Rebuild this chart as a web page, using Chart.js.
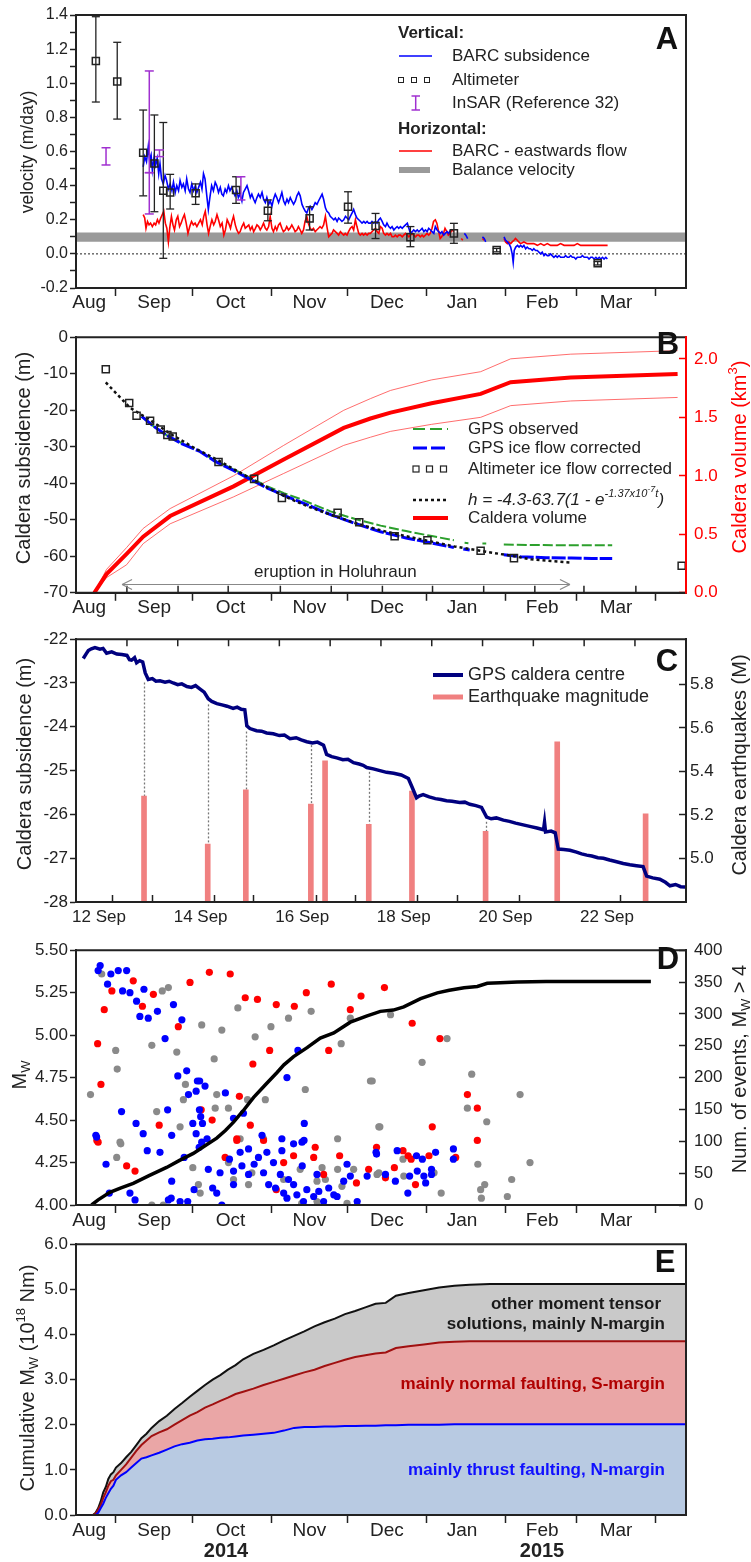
<!DOCTYPE html>
<html>
<head>
<meta charset="utf-8">
<script src="https://cdn.jsdelivr.net/npm/chart.js@4.4.1/dist/chart.umd.min.js"></script>
<style>
  body { margin: 0; background: #fff; width: 751px; height: 1562px; overflow: hidden; }
  canvas { display: block; }
</style>
</head>
<body>
<canvas id="cA" width="751" height="312"></canvas>
<canvas id="cB" width="751" height="306"></canvas>
<canvas id="cC" width="751" height="307"></canvas>
<canvas id="cD" width="751" height="307"></canvas>
<canvas id="cE" width="751" height="330"></canvas>
<script>
const FONT = '"Liberation Sans", Arial, Helvetica, sans-serif';
Chart.defaults.font.family = FONT;
Chart.defaults.color = '#222';

// month axis, x values are days since 1 Aug 2014
const monthEdges = [31, 61, 92, 122, 153, 184, 212, 243];
const monthMid = [20.5, 46, 76, 107, 137.5, 167, 198.5, 227.5];
const monthNames = ['Aug', 'Sep', 'Oct', 'Nov', 'Dec', 'Jan', 'Feb', 'Mar'];
const dayMin = 15.3, dayMax = 255;

// ---- panel A : velocities ----
const aTicks = [-0.2, -0.1, 0, 0.1, 0.2, 0.3, 0.4, 0.5, 0.6, 0.7, 0.8, 0.9, 1.0, 1.1, 1.2, 1.3, 1.4];
const altDays = [23.1, 31.5, 41.7, 46.1, 49.6, 52.3, 62.3, 78.2, 90.7, 107.1, 122.2, 133, 146.7, 163.8, 180.6, 220.3];
const altVel = [1.13, 1.01, 0.593, 0.53, 0.37, 0.36, 0.355, 0.374, 0.253, 0.208, 0.276, 0.163, 0.097, 0.12, 0.022, -0.055];
const altLow = [0.89, 0.79, 0.34, 0.247, -0.026, 0.263, 0.29, 0.296, 0.194, 0.14, 0.18, 0.09, 0.042, 0.062, 0.012, -0.065];
const altHigh = [1.39, 1.24, 0.843, 0.814, 0.77, 0.466, 0.41, 0.452, 0.316, 0.276, 0.364, 0.237, 0.16, 0.179, 0.032, -0.045];
const insarDays = [27.1, 44.1, 44.1, 48.1, 80.1];
const insarLow = [0.521, 0.476, 0.234, 0.57, 0.316];
const insarHigh = [0.622, 1.072, 0.476, 0.609, 0.452];
const balanceVel = 0.098;
const aBlueDays = [41.7, 42.3, 43.0, 43.7, 44.2, 44.8, 45.3, 46.0, 46.6, 47.2, 47.8, 48.3, 48.9, 49.6, 50.3, 50.9, 51.6, 52.3, 53.0, 53.6,
  54.3, 54.9, 55.6, 56.2, 56.9, 57.5, 58.2, 58.8, 59.5, 60.1, 60.8, 61.5, 62.2, 62.8, 63.5, 64.2, 64.8, 65.4, 66.0, 66.7,
  67.3, 67.9, 68.6, 69.3, 70.0, 70.6, 71.3, 72.0, 72.6, 73.2, 73.9, 74.5, 75.2, 75.8, 76.5, 77.2, 77.8, 78.5, 79.1, 79.8,
  80.5, 81.1, 81.8, 82.5, 83.1, 83.8, 84.4, 85.1, 85.7, 86.4, 87.0, 87.7, 88.4, 89.0, 89.7, 90.3, 91.0, 91.6, 92.3, 92.9,
  93.6, 94.2, 94.9, 95.6, 96.2, 96.9, 97.5, 98.2, 98.8, 99.5, 100.1, 100.8, 101.5, 102.1, 102.8, 103.4, 104.1, 104.7, 105.4, 106.0,
  106.7, 107.3, 108.0, 108.7, 109.3, 110.0, 110.6, 111.3, 112.0, 112.6, 113.3, 113.9, 114.6, 115.2, 115.9, 116.6, 117.2, 117.9, 118.5, 119.2,
  119.8, 120.5, 121.2, 121.8, 122.5, 123.1, 123.8, 124.4, 125.1, 125.7, 126.4, 127.1, 127.7, 128.4, 129.0, 129.7, 130.3, 131.0, 131.6, 132.3,
  133.0, 133.6, 134.3, 134.9, 135.6, 136.2, 136.9, 137.5, 138.2, 138.9, 139.5, 140.2, 140.8, 141.5, 142.1, 142.8, 143.5, 144.1, 144.8, 145.5,
  146.1, 146.7, 147.4, 148.0, 148.7, 149.4, 150.0, 150.7, 151.3, 152.0, 152.6, 153.3, 153.9, 154.6, 155.2, 155.9, 156.5, 157.2, 157.8, 158.5,
  159.1, 159.8, 160.4, 161.1, 161.7, 162.5, 163.5, 167.9, 168.5, 169.2, 170.5, 175.0, 175.7, 176.3, 177.5, 183.5, 184.1, 184.8, 185.4, 186.1,
  186.7, 187.1, 187.5, 188.1, 188.8, 189.4, 190.0, 190.7, 191.3, 192.0, 192.6, 193.3, 193.9, 194.6, 195.2, 195.9, 196.6, 197.2, 197.9, 198.5,
  199.2, 199.8, 200.5, 201.1, 201.8, 202.4, 203.1, 203.8, 204.4, 205.1, 205.7, 206.4, 207.1, 207.7, 208.4, 209.0, 209.7, 210.3, 211.0, 211.7,
  212.3, 213.0, 213.6, 214.3, 215.0, 215.6, 216.3, 216.9, 217.6, 218.2, 218.9, 219.6, 220.2, 220.9, 221.5, 222.2, 222.8, 223.5, 224.1];
const aBlue = [0.51, 0.57, 0.54, 0.63, 0.55, 0.58, 0.49, 0.57, 0.52, 0.56, 0.47, 0.53, 0.44, 0.41, 0.46, 0.43, 0.38, 0.41, 0.37, 0.42,
  0.36, 0.40, 0.37, 0.43, 0.39, 0.41, 0.37, 0.44, 0.38, 0.36, 0.41, 0.37, 0.40, 0.36, 0.39, 0.42, 0.38, 0.47, 0.44, 0.34,
  0.26, 0.33, 0.40, 0.37, 0.42, 0.40, 0.36, 0.39, 0.35, 0.34, 0.38, 0.36, 0.40, 0.37, 0.39, 0.36, 0.34, 0.37, 0.33, 0.35,
  0.31, 0.36, 0.38, 0.40, 0.37, 0.33, 0.35, 0.32, 0.30, 0.33, 0.35, 0.33, 0.36, 0.32, 0.30, 0.33, 0.29, 0.31, 0.28, 0.32,
  0.35, 0.33, 0.30, 0.33, 0.36, 0.31, 0.29, 0.32, 0.30, 0.33, 0.31, 0.29, 0.31, 0.34, 0.36, 0.34, 0.29, 0.27, 0.25, 0.24,
  0.27, 0.28, 0.26, 0.28, 0.30, 0.29, 0.31, 0.33, 0.35, 0.32, 0.27, 0.25, 0.24, 0.22, 0.21, 0.20, 0.21, 0.19, 0.21, 0.20,
  0.19, 0.20, 0.22, 0.21, 0.20, 0.22, 0.24, 0.26, 0.23, 0.21, 0.20, 0.19, 0.18, 0.19, 0.18, 0.19, 0.18, 0.18, 0.19, 0.18,
  0.19, 0.18, 0.20, 0.21, 0.19, 0.17, 0.16, 0.18, 0.16, 0.15, 0.16, 0.14, 0.15, 0.16, 0.15, 0.16, 0.15, 0.16, 0.17, 0.18,
  0.15, 0.12, 0.13, 0.14, 0.13, 0.14, 0.13, 0.14, 0.15, 0.13, 0.14, 0.13, 0.15, 0.14, 0.13, 0.12, 0.16, 0.14, 0.13, 0.12,
  0.13, 0.11, 0.12, 0.13, 0.12, 0.14, null, 0.12, 0.11, 0.09, null, 0.10, 0.09, 0.07, null, 0.10, 0.08, 0.07, 0.06, 0.04,
  0.00, -0.05, 0.02, 0.04, 0.05, 0.04, 0.05, 0.04, 0.05, 0.03, 0.04, 0.03, 0.03, 0.02, 0.03, 0.02, 0.02, 0.01, 0.00, 0.01,
  -0.01, 0.00, -0.01, -0.01, 0.00, -0.01, -0.02, -0.01, -0.02, -0.01, -0.02, -0.02, -0.02, -0.01, -0.02, -0.02, -0.01, -0.02, -0.02, -0.03,
  -0.02, -0.02, -0.02, -0.01, -0.02, -0.02, -0.02, -0.03, -0.02, -0.02, -0.03, -0.02, -0.03, -0.02, -0.03, -0.02, -0.03, -0.02, -0.03];
const aRedDays = [41.7, 42.3, 42.8, 43.4, 44.0, 44.6, 45.3, 46.0, 46.6, 47.3, 47.9, 48.6, 49.2, 49.8, 50.4, 51.0, 51.6, 52.2, 52.8, 53.4,
  54.0, 54.7, 55.3, 56.0, 56.6, 57.3, 57.9, 58.6, 59.3, 60.0, 60.7, 61.4, 62.1, 62.8, 63.5, 64.2, 64.9, 65.5, 66.1, 66.8,
  67.4, 68.0, 68.7, 69.4, 70.0, 70.7, 71.3, 72.0, 72.7, 73.4, 74.0, 74.7, 75.3, 76.0, 76.6, 77.2, 77.9, 78.5, 79.2, 79.8,
  80.5, 81.2, 81.8, 82.5, 83.2, 83.8, 84.5, 85.1, 85.8, 86.4, 87.1, 87.7, 88.4, 89.0, 89.7, 90.3, 91.0, 91.6, 92.3, 92.9,
  93.6, 94.2, 94.9, 95.5, 96.2, 96.8, 97.5, 98.1, 98.8, 99.4, 100.1, 100.8, 101.4, 102.1, 102.7, 103.4, 104.0, 104.7, 105.3, 106.0,
  106.6, 107.3, 108.0, 108.6, 109.3, 109.9, 110.6, 111.2, 111.9, 112.6, 113.3, 113.9, 114.6, 115.2, 115.9, 116.5, 117.2, 117.9, 118.5, 119.2,
  119.8, 120.5, 121.1, 121.8, 122.4, 123.1, 123.8, 124.4, 125.1, 125.7, 126.4, 127.0, 127.7, 128.3, 129.0, 129.7, 130.3, 131.0, 131.6, 132.3,
  133.0, 133.6, 134.3, 134.9, 135.6, 136.2, 136.9, 137.5, 138.2, 138.9, 139.5, 140.2, 140.8, 141.5, 142.1, 142.8, 143.5, 144.1, 144.8, 145.5,
  146.1, 146.7, 147.4, 148.0, 148.7, 149.3, 150.0, 150.6, 151.3, 151.9, 152.6, 153.2, 153.9, 154.5, 155.2, 155.8, 156.5, 157.1, 157.8, 158.4,
  159.0, 159.7, 160.3, 161.0, 161.6, 162.3, 163.0, 163.8, 165.0, 166.7, 167.3, 168.0, 175.0, 175.7, 177.0, 183.5, 184.1, 184.8, 185.4, 186.1,
  186.7, 187.4, 188.0, 188.7, 189.3, 190.0, 191.3, 192.6, 193.9, 195.2, 196.6, 197.9, 199.2, 200.5, 201.8, 203.1, 204.4, 205.7, 207.1, 208.4,
  209.7, 211.0, 212.3, 213.6, 215.0, 216.3, 217.6, 218.9, 220.2, 221.5, 222.8, 224.2];
const aRed = [0.23, 0.21, 0.15, 0.19, 0.17, 0.18, 0.16, 0.18, 0.17, 0.20, 0.18, 0.21, 0.23, 0.25, 0.18, 0.15, 0.07, 0.16, 0.22, 0.17,
  0.14, 0.20, 0.22, 0.16, 0.18, 0.21, 0.23, 0.18, 0.12, 0.16, 0.19, 0.17, 0.18, 0.16, 0.18, 0.20, 0.17, 0.22, 0.25, 0.17,
  0.12, 0.16, 0.20, 0.17, 0.19, 0.23, 0.20, 0.16, 0.18, 0.11, 0.14, 0.20, 0.18, 0.15, 0.19, 0.22, 0.17, 0.14, 0.12, 0.13,
  0.16, 0.18, 0.15, 0.16, 0.17, 0.14, 0.16, 0.13, 0.15, 0.17, 0.16, 0.14, 0.16, 0.18, 0.15, 0.14, 0.16, 0.22, 0.15, 0.13,
  0.16, 0.14, 0.17, 0.18, 0.15, 0.13, 0.14, 0.16, 0.14, 0.15, 0.17, 0.15, 0.13, 0.14, 0.16, 0.14, 0.12, 0.14, 0.19, 0.22,
  0.18, 0.15, 0.14, 0.15, 0.13, 0.14, 0.15, 0.16, 0.15, 0.17, 0.22, 0.16, 0.10, 0.11, 0.12, 0.14, 0.13, 0.12, 0.11, 0.13,
  0.12, 0.11, 0.12, 0.11, 0.13, 0.15, 0.16, 0.14, 0.20, 0.16, 0.12, 0.11, 0.12, 0.11, 0.12, 0.11, 0.12, 0.12, 0.13, 0.14,
  0.15, 0.13, 0.12, 0.16, 0.15, 0.12, 0.11, 0.12, 0.11, 0.12, 0.10, 0.10, 0.11, 0.10, 0.11, 0.11, 0.10, 0.11, 0.12, 0.11,
  0.10, 0.11, 0.12, 0.11, 0.10, 0.11, 0.11, 0.10, 0.11, 0.10, 0.11, 0.12, 0.11, 0.12, 0.15, 0.19, 0.20, 0.18, 0.13, 0.09,
  0.10, 0.12, 0.15, 0.13, 0.11, 0.12, 0.14, 0.13, null, 0.09, 0.08, null, 0.09, 0.08, null, 0.09, 0.07, 0.06, 0.07, 0.06,
  0.07, 0.08, 0.09, 0.08, 0.07, 0.06, 0.07, 0.06, 0.06, 0.06, 0.05, 0.06, 0.05, 0.06, 0.05, 0.05, 0.05, 0.06, 0.05, 0.05,
  0.05, 0.05, 0.06, 0.05, 0.05, 0.05, 0.05, 0.05, 0.05, 0.05, 0.05, 0.05];

// ---- panel B : caldera subsidence and volume ----
const bTicks = [-70, -60, -50, -40, -30, -20, -10, 0];
const bVolTicks = [0, 0.5, 1.0, 1.5, 2.0];
const bMinorDays = [35.3, 55.4, 75.1, 95.6, 115.6, 135.7, 155.4, 175.5, 195.6, 214.9, 235.3];
const bAltDays = [27, 36.2, 39.1, 44.4, 48.6, 51.2, 53.3, 71.3, 85.3, 96.2, 118.1, 126.6, 140.5, 153.4, 174.3, 187.4, 253.3];
const bAltH = [-8.8, -18.0, -21.5, -22.9, -25.3, -26.8, -27.2, -34.2, -38.8, -44.0, -48.1, -50.7, -54.5, -55.6, -58.5, -60.5, -62.6];
const fitDays = [27, 36.5, 44.4, 53.6, 62, 70.6, 78, 85.1, 92, 99.5, 107, 115.3, 125, 135, 145, 154.6, 164, 174.3, 184, 194, 202, 209.7];
const fitH = [-12.4, -19.3, -22.7, -27.0, -30.4, -33.5, -36.4, -39.1, -41.7, -44.3, -46.5, -48.6, -50.9, -52.9, -54.5, -55.9, -57.3, -58.5, -59.6, -60.8, -61.3, -61.7];
const gpsCorrDays = [41.1, 46, 51, 57, 64, 70, 77.2, 84, 90.3, 97, 103.4, 110, 115.3, 125, 135, 145, 154.6, 163.8, 165.5, 167.5, 170, 172, 183.4, 190, 200, 210, 218, 226];
const gpsCorr = [-21.7, -24.5, -26.9, -29.2, -31.3, -34.0, -36.5, -39.0, -41.3, -43.3, -45.1, -47.0, -48.6, -51.0, -53.3, -55.0, -56.3, -57.6, null, -58.0, -58.3, null, -59.6, -60.1, -60.4, -60.5, -60.6, -60.6];
const gpsObsDays = [41.1, 46, 51, 57, 64, 70, 77.2, 84, 90.3, 97, 103.4, 110, 115.3, 125, 135, 145, 154.6, 163.8, 166, 168, 169.5, 172, 175, 176.5, 178, 183.4, 195, 210, 226];
const gpsObs = [-21.7, -24.5, -26.9, -29.1, -31.2, -33.8, -36.2, -38.6, -40.8, -42.7, -44.3, -46.2, -47.7, -49.8, -51.6, -53.1, -54.4, -55.6, null, -56.3, -56.4, null, -56.5, -56.5, null, -56.8, -56.9, -57.0, -57.0];
const volDays = [22.5, 27.3, 35.2, 41.7, 52.3, 77.2, 96.9, 120.5, 131, 138.9, 155, 174.3, 186.1, 209.7, 251.7];
const volMid = [0.0, 0.16, 0.333, 0.48, 0.656, 0.91, 1.14, 1.41, 1.49, 1.54, 1.62, 1.70, 1.80, 1.84, 1.87];
const volHigh = [0.0, 0.2, 0.387, 0.55, 0.72, 1.0, 1.26, 1.56, 1.66, 1.73, 1.82, 1.89, 2.0, 2.04, 2.07];
const volLow = [0.0, 0.13, 0.24, 0.42, 0.59, 0.82, 1.02, 1.26, 1.33, 1.38, 1.44, 1.50, 1.60, 1.64, 1.67];
const eruptionDays = [33.4, 209.4];

// ---- panel C : 12-23 Sep detail (x = day of September) ----
const cTicks = [-28, -27, -26, -25, -24, -23, -22];
const cMagTicks = [5.0, 5.2, 5.4, 5.6, 5.8];
const cLabelDays = [12, 14, 16, 18, 20, 22];
const cLabels = ['12 Sep', '14 Sep', '16 Sep', '18 Sep', '20 Sep', '22 Sep'];
const cMarkDays = [12.55, 13.55, 14.55, 15.55, 16.55, 17.55, 18.55, 19.55, 20.55, 21.55, 22.55];
const cDays = [11.69, 11.75, 11.79, 11.85, 11.92, 12.02, 12.08, 12.15, 12.25, 12.35, 12.45, 12.55, 12.6, 12.64, 12.7, 12.74, 12.8, 12.86, 12.91, 12.97,
  13.05, 13.12, 13.2, 13.3, 13.38, 13.46, 13.55, 13.63, 13.73, 13.82, 13.9, 13.99, 14.07, 14.15, 14.22, 14.32, 14.42, 14.52, 14.64, 14.72,
  14.8, 14.87, 14.91, 14.97, 15.1, 15.2, 15.3, 15.43, 15.55, 15.65, 15.76, 15.88, 15.98, 16.09, 16.2, 16.3, 16.42, 16.48, 16.58, 16.68,
  16.8, 16.9, 17.01, 17.12, 17.2, 17.27, 17.4, 17.53, 17.66, 17.8, 17.95, 18.09, 18.16, 18.25, 18.3, 18.38, 18.5, 18.62, 18.73, 18.84,
  18.95, 19.1, 19.2, 19.3, 19.42, 19.53, 19.63, 19.72, 19.82, 19.96, 20.08, 20.2, 20.35, 20.5, 20.62, 20.75, 20.77, 20.79, 20.9, 20.98,
  21.04, 21.15, 21.27, 21.4, 21.5, 21.6, 21.7, 21.82, 21.93, 22.05, 22.15, 22.32, 22.45, 22.58, 22.71, 22.78, 22.9, 23.04, 23.15, 23.24,
  23.35, 23.45, 23.54];
const cGps = [-22.44, -22.33, -22.26, -22.22, -22.19, -22.23, -22.21, -22.32, -22.29, -22.34, -22.35, -22.37, -22.47, -22.48, -22.42, -22.54, -22.49, -22.52, -22.77, -22.92,
  -22.9, -22.96, -22.95, -22.98, -22.96, -23.0, -23.04, -23.02, -23.08, -23.1, -23.06, -23.14, -23.21, -23.36, -23.42, -23.47, -23.5, -23.53, -23.58, -23.55,
  -23.6, -23.61, -23.98, -24.04, -24.09, -24.1, -24.14, -24.16, -24.2, -24.19, -24.27, -24.25, -24.3, -24.34, -24.37, -24.35, -24.42, -24.63, -24.68, -24.71,
  -24.75, -24.74, -24.82, -24.85, -24.88, -24.93, -24.96, -25.0, -25.04, -25.06, -25.1, -25.18, -25.37, -25.62, -25.58, -25.55, -25.6, -25.64, -25.66, -25.69,
  -25.7, -25.73, -25.72, -25.77, -25.8, -25.84, -26.06, -26.1, -26.08, -26.13, -26.16, -26.2, -26.24, -26.28, -26.31, -26.35, -26.18, -26.4, -26.38, -26.42,
  -26.79, -26.8, -26.82, -26.86, -26.9, -26.93, -26.95, -26.99, -27.0, -27.04, -27.07, -27.12, -27.15, -27.17, -27.19, -27.41, -27.45, -27.48, -27.55, -27.63,
  -27.6, -27.65, -27.66];
const quakeDays = [12.886, 14.14, 14.89, 16.17, 16.45, 17.31, 18.16, 19.61, 21.02, 22.76];
const quakeMag = [5.286, 5.066, 5.315, 5.25, 5.448, 5.157, 5.31, 5.125, 5.536, 5.205];

// ---- panel D : earthquakes Mw > 4 ----
const dTicks = [4.0, 4.25, 4.5, 4.75, 5.0, 5.25, 5.5];
const dCountTicks = [0, 50, 100, 150, 200, 250, 300, 350, 400];
const dBlueDays = [24.0, 24.8, 27.7, 29.0, 31.9, 33.6, 35.2, 36.5, 39.1, 40.4, 42.0, 43.7, 47.3, 50.3, 53.6, 56.9, 55.3, 58.8, 59.5, 62.5,
  63.0, 63.9, 66.0, 63.8, 64.3, 62.5, 61.2, 65.0, 66.8, 51.3, 38.9, 41.7, 33.2, 23.1, 52.9, 74.0, 77.2, 81.1, 88.4, 96.2,
  102.5, 98.2, 105.0, 104.9, 23.4, 27.1, 28.4, 36.5, 38.5, 43.3, 48.3, 52.9, 51.6, 52.7, 56.2, 59.2, 57.8, 61.7, 63.7, 67.3,
  69.0, 70.6, 72.6, 64.7, 71.9, 75.6, 77.2, 77.2, 79.8, 80.5, 83.1, 83.1, 85.3, 87.0, 89.0, 90.3, 91.0, 92.9, 93.7, 95.6,
  96.2, 96.9, 98.2, 98.8, 100.8, 102.1, 104.1, 104.2, 104.7, 106.0, 108.7, 110.7, 110.0, 112.6, 114.6, 116.6, 117.9, 120.5, 121.8, 123.1,
  125.8, 129.7, 133.2, 100.8, 141.5, 133.4, 163.6, 163.6, 156.6, 149.1, 151.4, 155.0, 152.0, 149.4, 152.7, 145.7, 136.9, 140.8, 146.4, 155.0];
const dBlueMw = [5.38, 5.41, 5.30, 5.36, 5.38, 5.26, 5.38, 5.25, 5.20, 5.11, 5.27, 5.10, 5.14, 4.98, 5.18, 5.09, 4.76, 4.79, 4.65, 4.67,
  4.73, 4.73, 4.70, 4.56, 4.52, 4.42, 4.48, 4.48, 4.39, 4.56, 4.48, 4.42, 4.55, 4.41, 4.41, 4.66, 4.51, 4.54, 4.41, 4.39,
  4.91, 4.75, 4.48, 4.38, 4.40, 4.24, 4.07, 4.07, 4.03, 4.32, 4.31, 4.14, 4.03, 4.04, 4.02, 4.02, 4.28, 4.09, 4.34, 4.21,
  4.10, 4.07, 4.00, 4.37, 4.19, 4.27, 4.20, 4.12, 4.31, 4.23, 4.33, 4.18, 4.24, 4.28, 4.19, 4.31, 4.12, 4.25, 4.10, 4.18,
  4.32, 4.07, 4.04, 4.15, 4.12, 4.06, 4.37, 4.23, 4.02, 4.09, 4.05, 4.08, 4.18, 4.02, 4.10, 4.06, 4.05, 4.14, 4.24, 4.17,
  4.02, 4.17, 4.31, 4.36, 4.32, 4.30, 4.33, 4.27, 4.31, 4.29, 4.27, 4.21, 4.17, 4.20, 4.13, 4.07, 4.18, 4.14, 4.17, 4.18];
const dRedDays = [29.4, 26.4, 23.8, 25.1, 37.8, 41.4, 45.7, 55.5, 60.1, 67.7, 75.9, 81.8, 86.6, 94.0, 91.4, 84.8, 101.1, 105.8, 115.6, 114.6,
  123.1, 127.3, 79.5, 83.8, 48.0, 64.5, 68.8, 23.5, 78.5, 136.5, 147.4, 158.3, 169.1, 173.0, 155.3, 173.0, 24.0, 35.2, 38.5, 73.9,
  78.5, 89.0, 96.9, 100.8, 108.7, 109.3, 112.6, 118.9, 125.5, 130.3, 133.4, 94.0, 143.8, 145.8, 147.0, 154.0, 164.5, 140.4, 136.9, 148.7];
const dRedMw = [5.26, 5.15, 4.95, 4.71, 5.32, 5.17, 5.24, 5.05, 5.31, 5.37, 5.36, 5.22, 5.21, 5.18, 4.91, 4.83, 5.17, 5.25, 5.30, 4.91,
  5.15, 5.23, 4.64, 4.47, 4.47, 4.56, 4.50, 4.38, 4.39, 5.28, 5.07, 4.98, 4.65, 4.57, 4.46, 4.38, 4.37, 4.23, 4.20, 4.28,
  4.38, 4.38, 4.25, 4.29, 4.28, 4.34, 4.18, 4.29, 4.13, 4.21, 4.34, 4.09, 4.32, 4.29, 4.27, 4.29, 4.28, 4.22, 4.16, 4.12];
const dGrayDays = [21.0, 25.4, 30.9, 31.5, 45.1, 49.2, 51.6, 54.9, 58.3, 57.5, 47.0, 56.2, 64.7, 69.6, 70.6, 70.0, 72.6, 75.2, 78.9, 82.7,
  85.7, 89.7, 91.9, 98.8, 107.7, 105.4, 119.5, 123.1, 131.0, 134.3, 32.6, 138.9, 161.1, 151.3, 170.8, 189.8, 169.1, 176.7, 134.7, 131.7,
  143.8, 134.3, 144.1, 156.0, 158.8, 173.2, 175.9, 174.3, 174.6, 184.8, 186.5, 193.7, 32.9, 31.3, 45.1, 49.6, 61.2, 63.4, 64.1, 75.2,
  79.8, 77.2, 83.1, 84.4, 89.0, 96.9, 103.4, 112.0, 110.0, 113.3, 118.1, 118.1, 119.8, 121.8, 124.4, 133.6, 110.0, 104.0];
const dGrayMw = [4.65, 5.36, 4.91, 4.80, 4.94, 5.26, 5.28, 4.90, 4.71, 4.62, 4.55, 4.46, 5.06, 4.86, 4.65, 4.57, 5.03, 4.57, 5.16, 4.62,
  4.99, 4.62, 5.05, 5.10, 5.14, 4.68, 4.95, 5.10, 4.73, 4.46, 4.37, 5.12, 4.98, 4.84, 4.77, 4.65, 4.57, 4.49, 4.46, 4.73,
  4.27, 4.19, 4.17, 4.19, 4.07, 4.24, 4.12, 4.09, 4.04, 4.05, 4.15, 4.25, 4.36, 4.28, 4.00, 4.00, 4.22, 4.12, 4.07, 4.25,
  4.39, 4.15, 4.12, 4.19, 4.39, 4.15, 4.21, 4.22, 4.14, 4.15, 4.21, 4.39, 4.11, 4.01, 4.21, 4.18, 4.02, 4.01];
const dCumDays = [21.4, 24, 28.6, 33, 37.8, 44, 50.9, 56, 61.4, 66, 70.6, 74, 77.2, 81, 85.1, 90, 94.3, 97, 100.8, 106.1,
  111.3, 116.6, 123.1, 129.7, 134.9, 140, 144.1, 150.7, 157.3, 162, 167.8, 173, 176.9, 182, 188.7, 200, 220, 241.2];
const dCum = [0, 8, 20, 27, 34, 46, 59, 70, 81, 93, 105, 117, 130, 148, 169, 190, 208, 220, 233, 247,
  262, 270, 287, 297, 304, 306, 311, 324, 333, 337, 341, 343, 348, 349, 350, 351, 351, 351];

// ---- panel E : cumulative moment ----
const eTicks = [0, 1, 2, 3, 4, 5, 6];
const eDays = [15, 22, 23, 24, 25, 26, 27, 28, 29, 30, 31, 33, 35, 37, 39, 41, 43, 45, 48, 51,
  54, 57, 60, 63, 66, 69, 72, 75, 78, 81, 85, 89, 93, 97, 101, 105, 109, 113, 117, 121,
  125, 129, 133, 137, 141, 146, 152, 158, 164, 170, 178, 190, 255];
const eThrust = [0, 0, 0, 0.05, 0.15, 0.25, 0.38, 0.48, 0.58, 0.65, 0.78, 0.88, 0.95, 1.05, 1.15, 1.25, 1.28, 1.32, 1.38, 1.45,
  1.52, 1.57, 1.6, 1.65, 1.68, 1.69, 1.71, 1.72, 1.74, 1.76, 1.78, 1.8, 1.82, 1.87, 1.93, 1.95, 1.95, 1.96, 1.96, 1.97,
  1.97, 1.98, 1.98, 1.99, 1.99, 2.0, 2.0, 2.0, 2.01, 2.01, 2.01, 2.01, 2.01];
const eNormal = [0, 0, 0.03, 0.12, 0.22, 0.38, 0.5, 0.65, 0.75, 0.78, 0.88, 1.0, 1.12, 1.27, 1.42, 1.55, 1.65, 1.75, 1.83, 1.9,
  2.0, 2.1, 2.2, 2.28, 2.38, 2.45, 2.53, 2.6, 2.68, 2.73, 2.8, 2.88, 2.95, 3.02, 3.09, 3.16, 3.22, 3.3, 3.37, 3.44,
  3.5, 3.54, 3.58, 3.6, 3.7, 3.74, 3.78, 3.82, 3.84, 3.85, 3.85, 3.85, 3.85];
const eTotal = [0, 0, 0.05, 0.15, 0.3, 0.5, 0.62, 0.8, 0.9, 0.95, 1.05, 1.15, 1.28, 1.4, 1.55, 1.7, 1.8, 1.93, 2.08, 2.2,
  2.35, 2.48, 2.62, 2.75, 2.88, 3.0, 3.1, 3.22, 3.32, 3.45, 3.57, 3.66, 3.76, 3.87, 3.97, 4.07, 4.18, 4.27, 4.35, 4.45,
  4.52, 4.6, 4.68, 4.7, 4.86, 4.92, 4.98, 5.04, 5.08, 5.1, 5.12, 5.12, 5.12];

// ---------- helpers ----------
const pts = (xs, ys) => xs.map((x, i) => ({x: x, y: ys[i]}));
function errPts(xs, lo, hi) {
  const out = [];
  xs.forEach((x, i) => { out.push({x: x, y: lo[i]}, {x: x, y: hi[i]}, {x: x, y: null}); });
  return out;
}

function rich(ctx, parts, x, y, o) {
  o = o || {};
  const size = o.size || 17;
  const fontFor = lvl => (o.italic ? 'italic ' : '') + (o.bold ? 'bold ' : '') +
    (lvl === 0 ? size : Math.round(size * (lvl === 2 ? 0.5 : 0.65))) + 'px ' + FONT;
  let w = 0;
  parts.forEach(p => { ctx.font = fontFor(p[1]); w += ctx.measureText(p[0]).width; });
  let sx = o.align === 'center' ? -w / 2 : o.align === 'right' ? -w : 0;
  ctx.save();
  ctx.translate(x, y);
  if (o.rotate) ctx.rotate(-Math.PI / 2);
  ctx.fillStyle = o.color || '#222';
  ctx.textBaseline = 'middle';
  ctx.textAlign = 'left';
  parts.forEach(p => {
    ctx.font = fontFor(p[1]);
    const dy = p[1] === 1 ? -size * 0.35 : p[1] === -1 ? size * 0.3 : p[1] === 2 ? -size * 0.62 : 0;
    ctx.fillText(p[0], sx, dy);
    sx += ctx.measureText(p[0]).width;
  });
  ctx.restore();
}
const txt = (ctx, s, x, y, o) => rich(ctx, [[s, 0]], x, y, o);

function seg(ctx, x1, y1, x2, y2, color, w, dash) {
  ctx.save();
  ctx.strokeStyle = color; ctx.lineWidth = w; ctx.setLineDash(dash || []);
  ctx.beginPath(); ctx.moveTo(x1, y1); ctx.lineTo(x2, y2); ctx.stroke();
  ctx.restore();
}

function monthAxis(h, pad) {
  const vals = monthEdges.concat(monthMid).sort((a, b) => a - b);
  return {
    type: 'linear', position: 'bottom', min: dayMin, max: dayMax, offset: false,
    afterBuildTicks: s => { s.ticks = vals.map(v => ({value: v})); },
    afterFit: s => { s.height = h; },
    ticks: {
      autoSkip: false, maxRotation: 0, minRotation: 0, padding: pad, color: '#222', font: {size: 19},
      callback: v => { const i = monthMid.indexOf(v); return i >= 0 ? monthNames[i] : ''; }
    },
    grid: {
      drawOnChartArea: false, drawTicks: true, tickLength: 8, tickWidth: 1.5,
      tickColor: c => (c.tick && monthEdges.includes(c.tick.value)) ? '#222' : 'rgba(0,0,0,0)'
    },
    border: {display: true, color: '#222', width: 2}
  };
}

function yAxis(pos, min, max, ticks, fmt, o) {
  o = o || {};
  const color = o.color || '#222';
  return {
    type: 'linear', position: pos, min: min, max: max,
    afterBuildTicks: s => { s.ticks = ticks.map(v => ({value: v})); },
    afterFit: s => { s.width = pos === 'left' ? 76 : 65; },
    ticks: {autoSkip: false, color: color, font: {size: o.size || 17}, padding: o.padding !== undefined ? o.padding : 2, callback: fmt},
    grid: {drawOnChartArea: false, drawTicks: true, tickLength: o.inward ? -7 : 6, tickColor: color, tickWidth: 1.5},
    border: {display: true, color: color, width: 2}
  };
}

function baseOptions(padTop, padRight) {
  return {
    responsive: false, animation: false, devicePixelRatio: 1,
    layout: {padding: {top: padTop, right: padRight, left: 0, bottom: 0}},
    plugins: {legend: {display: false}, tooltip: {enabled: false}},
    elements: {point: {radius: 0}, line: {tension: 0}}
  };
}

function frame(rightColor) {
  return {
    id: 'frame',
    afterDatasetsDraw(chart) {
      const {ctx, chartArea: a} = chart;
      ctx.save();
      ctx.lineWidth = 2;
      ctx.strokeStyle = '#222';
      ctx.beginPath();
      ctx.moveTo(a.right, a.top); ctx.lineTo(a.left, a.top); ctx.lineTo(a.left, a.bottom); ctx.lineTo(a.right, a.bottom);
      ctx.stroke();
      ctx.strokeStyle = rightColor || '#222';
      ctx.beginPath(); ctx.moveTo(a.right, a.top - 1); ctx.lineTo(a.right, a.bottom + 1); ctx.stroke();
      ctx.restore();
    }
  };
}

function innerTicks(bottomVals, topVals) {
  return {
    id: 'innerTicks',
    afterDatasetsDraw(chart) {
      const {ctx, chartArea: a} = chart;
      const xs = chart.scales.x;
      ctx.save();
      ctx.strokeStyle = '#222'; ctx.lineWidth = 1.5;
      ctx.beginPath();
      (bottomVals || []).forEach(v => { const x = xs.getPixelForValue(v); ctx.moveTo(x, a.bottom); ctx.lineTo(x, a.bottom - 7); });
      (topVals || []).forEach(v => { const x = xs.getPixelForValue(v); ctx.moveTo(x, a.top); ctx.lineTo(x, a.top + 7); });
      ctx.stroke();
      ctx.restore();
    }
  };
}

// ---------- Panel A ----------
new Chart(document.getElementById('cA'), {
  type: 'line',
  data: {
    datasets: [
      {data: [{x: dayMin, y: balanceVel}, {x: dayMax, y: balanceVel}], borderColor: '#9a9a9a', borderWidth: 9.4, order: 10},
      {data: [{x: dayMin, y: 0}, {x: dayMax, y: 0}], borderColor: '#222', borderWidth: 1, borderDash: [2, 2], order: 9},
      {data: pts(aRedDays, aRed), borderColor: '#ff0000', borderWidth: 1.6, spanGaps: false, order: 5},
      {data: pts(aBlueDays, aBlue), borderColor: '#0000ff', borderWidth: 1.6, spanGaps: false, order: 4},
      {data: errPts(altDays, altLow, altHigh), borderColor: '#222', borderWidth: 1.3, spanGaps: false,
        pointStyle: 'line', pointRadius: 4, pointBorderColor: '#222', pointBorderWidth: 1.3, order: 3},
      {data: errPts(insarDays, insarLow, insarHigh), borderColor: '#a030d0', borderWidth: 1.5, spanGaps: false,
        pointStyle: 'line', pointRadius: 4.5, pointBorderColor: '#a030d0', pointBorderWidth: 1.5, order: 2},
      {type: 'scatter', data: pts(altDays, altVel), pointStyle: 'rect', pointRadius: 5, pointBackgroundColor: 'rgba(0,0,0,0)',
        pointBorderColor: '#222', pointBorderWidth: 1.5, order: 1}
    ]
  },
  options: Object.assign(baseOptions(15, 65), {
    scales: {
      x: monthAxis(24, -5),
      y: yAxis('left', -0.2, 1.4, aTicks, v => (Math.round(v * 10) % 2 === 0 ? v.toFixed(1) : ''), {size: 16})
    }
  }),
  plugins: [frame(), {
    id: 'decorA',
    afterDraw(chart) {
      const ctx = chart.ctx;
      txt(ctx, 'velocity (m/day)', 28, 152, {size: 17.5, rotate: true, align: 'center'});
      txt(ctx, 'A', 667, 40, {size: 31, bold: true, align: 'center', color: '#111'});
      txt(ctx, 'Vertical:', 398, 33, {size: 17, bold: true});
      seg(ctx, 399, 56, 432, 56, '#0000ff', 1.6);
      txt(ctx, 'BARC subsidence', 452, 56);
      ctx.save(); ctx.strokeStyle = '#222'; ctx.lineWidth = 1;
      [401, 414, 427].forEach(x => ctx.strokeRect(x - 2.5, 77.5, 5, 5));
      ctx.restore();
      txt(ctx, 'Altimeter', 452, 80);
      seg(ctx, 415.7, 96, 415.7, 110, '#a030d0', 1.5);
      seg(ctx, 411.5, 96, 420, 96, '#a030d0', 1.5);
      seg(ctx, 411.5, 110, 420, 110, '#a030d0', 1.5);
      txt(ctx, 'InSAR (Reference 32)', 452, 103);
      txt(ctx, 'Horizontal:', 398, 129, {size: 17, bold: true});
      seg(ctx, 399, 151, 432, 151, '#ff0000', 1.6);
      txt(ctx, 'BARC - eastwards flow', 452, 151);
      ctx.save(); ctx.fillStyle = '#9a9a9a'; ctx.fillRect(399, 167, 31, 6); ctx.restore();
      txt(ctx, 'Balance velocity', 452, 170);
    }
  }]
});

// ---------- Panel B ----------
new Chart(document.getElementById('cB'), {
  type: 'line',
  data: {
    datasets: [
      {data: pts(volDays, volHigh), yAxisID: 'y2', borderColor: 'rgba(255,60,60,0.75)', borderWidth: 1, order: 8},
      {data: pts(volDays, volLow), yAxisID: 'y2', borderColor: 'rgba(255,60,60,0.75)', borderWidth: 1, order: 8},
      {data: pts(volDays, volMid), yAxisID: 'y2', borderColor: '#ff0000', borderWidth: 4, order: 7},
      {data: pts(gpsObsDays, gpsObs), borderColor: '#2ca02c', borderWidth: 2, borderDash: [10, 3], spanGaps: false, order: 5},
      {data: pts(gpsCorrDays, gpsCorr), borderColor: '#0000ff', borderWidth: 3, borderDash: [14, 2], spanGaps: false, order: 4},
      {data: pts(fitDays, fitH), borderColor: '#111', borderWidth: 2.5, borderDash: [3, 3], order: 3},
      {type: 'scatter', data: pts(bAltDays, bAltH), pointStyle: 'rect', pointRadius: 5, pointBackgroundColor: 'rgba(0,0,0,0)',
        pointBorderColor: '#222', pointBorderWidth: 1.5, order: 1}
    ]
  },
  options: Object.assign(baseOptions(10, 0), {
    scales: {
      x: monthAxis(25, -4),
      y: yAxis('left', -70, 0, bTicks, v => String(v)),
      y2: yAxis('right', 0, 2.185, bVolTicks, v => v.toFixed(1), {color: '#ff0000', inward: true, padding: 15})
    }
  }),
  plugins: [frame('#ff0000'), innerTicks(bMinorDays), {
    id: 'decorB',
    afterDraw(chart) {
      const ctx = chart.ctx, xs = chart.scales.x, ys = chart.scales.y;
      // eruption arrow
      const x1 = xs.getPixelForValue(eruptionDays[0]), x2 = xs.getPixelForValue(eruptionDays[1]);
      const ya = Math.round(ys.getPixelForValue(-67.7)) + 0.5;
      seg(ctx, x1, ya, x2, ya, '#888', 1.2);
      seg(ctx, x1, ya, x1 + 10, ya - 5, '#888', 1.2); seg(ctx, x1, ya, x1 + 10, ya + 5, '#888', 1.2);
      seg(ctx, x2, ya, x2 - 10, ya - 5, '#888', 1.2); seg(ctx, x2, ya, x2 - 10, ya + 5, '#888', 1.2);
      txt(ctx, 'eruption in Holuhraun', xs.getPixelForValue(117.2), ys.getPixelForValue(-64.4), {align: 'center'});
      // titles
      txt(ctx, 'Caldera subsidence (m)', 24, 146, {size: 20, rotate: true, align: 'center'});
      rich(ctx, [['Caldera volume (km', 0], ['3', 1], [')', 0]], 740, 145, {size: 20, rotate: true, align: 'center', color: '#ff0000'});
      txt(ctx, 'B', 668, 33, {size: 31, bold: true, align: 'center', color: '#111'});
      // legend
      seg(ctx, 413, 117, 448, 117, '#2ca02c', 2, [12, 5]);
      txt(ctx, 'GPS observed', 468, 117);
      seg(ctx, 413, 136, 448, 136, '#0000ff', 3, [14, 4]);
      txt(ctx, 'GPS ice flow corrected', 468, 136);
      ctx.save(); ctx.strokeStyle = '#222'; ctx.lineWidth = 1.2;
      [416, 429.5, 443.5].forEach(x => ctx.strokeRect(x - 3, 154, 6, 6));
      ctx.restore();
      txt(ctx, 'Altimeter ice flow corrected', 468, 157);
      seg(ctx, 413, 188, 448, 188, '#111', 2.5, [3, 3]);
      rich(ctx, [['h = -4.3-63.7(1 - e', 0], ['-1.37x10', 1], ['-7', 2], ['t', 1], [')', 0]], 468, 188, {italic: true});
      seg(ctx, 413, 206, 448, 206, '#ff0000', 4);
      txt(ctx, 'Caldera volume', 468, 206);
    }
  }]
});

// ---------- Panel C ----------
const cVals = cLabelDays.concat(cMarkDays).sort((a, b) => a - b);
new Chart(document.getElementById('cC'), {
  type: 'line',
  data: {
    datasets: [
      {data: pts(cDays, cGps), borderColor: '#00007f', borderWidth: 3.5, order: 0},
      {type: 'bar', data: pts(quakeDays, quakeMag), yAxisID: 'y2', backgroundColor: '#f08080', barThickness: 5, order: 1}
    ]
  },
  options: Object.assign(baseOptions(10, 0), {
    scales: {
      x: {
        type: 'linear', position: 'bottom', min: 11.547, max: 23.555, offset: false,
        afterBuildTicks: s => { s.ticks = cVals.map(v => ({value: v})); },
        afterFit: s => { s.height = 23; },
        ticks: {autoSkip: false, maxRotation: 0, padding: 12, color: '#222', font: {size: 17},
          callback: v => { const i = cLabelDays.indexOf(v); return i >= 0 ? cLabels[i] : ''; }},
        grid: {drawOnChartArea: false, drawTicks: true, tickLength: -7, tickWidth: 1.5,
          tickColor: c => (c.tick && cMarkDays.includes(c.tick.value)) ? '#222' : 'rgba(0,0,0,0)'},
        border: {display: true, color: '#222', width: 2}
      },
      y: yAxis('left', -28, -22, cTicks, v => String(v)),
      y2: yAxis('right', 4.8, 6.007, cMagTicks, v => v.toFixed(1), {inward: true, padding: 11})
    }
  }),
  plugins: [frame(), innerTicks([], cMarkDays), {
    id: 'links',
    beforeDatasetsDraw(chart) {
      const ctx = chart.ctx, xs = chart.scales.x, yl = chart.scales.y, yr = chart.scales.y2;
      ctx.save(); ctx.strokeStyle = '#777'; ctx.lineWidth = 1.3; ctx.setLineDash([2, 2]);
      quakeDays.forEach((d, i) => {
        const j = cDays.findIndex(t => t >= d + 0.05);
        const yTop = yl.getPixelForValue(cGps[j]) + 3;
        const yBar = yr.getPixelForValue(quakeMag[i]);
        if (yBar > yTop + 4) {
          const x = Math.round(xs.getPixelForValue(d)) + 0.5;
          ctx.beginPath(); ctx.moveTo(x, yTop); ctx.lineTo(x, yBar); ctx.stroke();
        }
      });
      ctx.restore();
    },
    afterDraw(chart) {
      const ctx = chart.ctx;
      txt(ctx, 'Caldera subsidence (m)', 25, 146, {size: 20, rotate: true, align: 'center'});
      txt(ctx, 'Caldera earthquakes (M)', 740, 147, {size: 20, rotate: true, align: 'center'});
      txt(ctx, 'C', 667, 44, {size: 31, bold: true, align: 'center', color: '#111'});
      seg(ctx, 433, 57, 463, 57, '#00007f', 4);
      txt(ctx, 'GPS caldera centre', 468, 57, {size: 18});
      seg(ctx, 433, 79, 463, 79, '#f08080', 5);
      txt(ctx, 'Earthquake magnitude', 468, 79, {size: 18});
    }
  }]
});

// ---------- Panel D ----------
new Chart(document.getElementById('cD'), {
  type: 'line',
  data: {
    datasets: [
      {data: pts(dCumDays, dCum), yAxisID: 'y2', borderColor: '#000', borderWidth: 3.5, order: 0},
      {type: 'scatter', data: pts(dGrayDays, dGrayMw), pointRadius: 3.6, pointBackgroundColor: '#8a8a8a', pointBorderWidth: 0, order: 3},
      {type: 'scatter', data: pts(dRedDays, dRedMw), pointRadius: 3.6, pointBackgroundColor: '#ff0000', pointBorderWidth: 0, order: 2},
      {type: 'scatter', data: pts(dBlueDays, dBlueMw), pointRadius: 3.6, pointBackgroundColor: '#0000ff', pointBorderWidth: 0, order: 1}
    ]
  },
  options: Object.assign(baseOptions(8, 0), {
    scales: {
      x: monthAxis(27, -4),
      y: yAxis('left', 4.0, 5.5, dTicks, v => v.toFixed(2)),
      y2: yAxis('right', 0, 400, dCountTicks, v => String(v), {inward: true, padding: 15})
    }
  }),
  plugins: [frame(), {
    id: 'decorD',
    afterDraw(chart) {
      const ctx = chart.ctx;
      rich(ctx, [['M', 0], ['W', -1]], 20, 150, {size: 20, rotate: true, align: 'center'});
      rich(ctx, [['Num. of events, M', 0], ['W', -1], [' > 4', 0]], 740, 144, {size: 20, rotate: true, align: 'center'});
      txt(ctx, 'D', 668, 35, {size: 31, bold: true, align: 'center', color: '#111'});
    }
  }]
});

// ---------- Panel E ----------
new Chart(document.getElementById('cE'), {
  type: 'line',
  data: {
    datasets: [
      {data: pts(eDays, eThrust), borderColor: '#0000ff', borderWidth: 2, fill: 'origin', backgroundColor: '#b8cae2'},
      {data: pts(eDays, eNormal), borderColor: '#a01010', borderWidth: 2, fill: '-1', backgroundColor: '#eaa6a6'},
      {data: pts(eDays, eTotal), borderColor: '#111', borderWidth: 2, fill: '-1', backgroundColor: '#c9c9c9'}
    ]
  },
  options: Object.assign(baseOptions(11, 65), {
    scales: {
      x: monthAxis(47, -4),
      y: yAxis('left', 0, 6, eTicks, v => v.toFixed(1))
    }
  }),
  plugins: [frame(), {
    id: 'decorE',
    afterDraw(chart) {
      const ctx = chart.ctx;
      rich(ctx, [['Cumulative M', 0], ['W', -1], [' (10', 0], ['18', 1], [' Nm)', 0]], 28, 146, {size: 20, rotate: true, align: 'center'});
      txt(ctx, 'E', 665, 31, {size: 31, bold: true, align: 'center', color: '#111'});
      txt(ctx, 'other moment tensor', 661, 72, {size: 17, bold: true, align: 'right', color: '#1a1a1a'});
      txt(ctx, 'solutions, mainly N-margin', 665, 92, {size: 17, bold: true, align: 'right', color: '#1a1a1a'});
      txt(ctx, 'mainly normal faulting, S-margin', 665, 152, {size: 17, bold: true, align: 'right', color: '#b00000'});
      txt(ctx, 'mainly thrust faulting, N-margin', 665, 238, {size: 17, bold: true, align: 'right', color: '#1010ff'});
      txt(ctx, '2014', 226, 319, {size: 20, bold: true, align: 'center'});
      txt(ctx, '2015', 542, 319, {size: 20, bold: true, align: 'center'});
    }
  }]
});
</script>
</body>
</html>
